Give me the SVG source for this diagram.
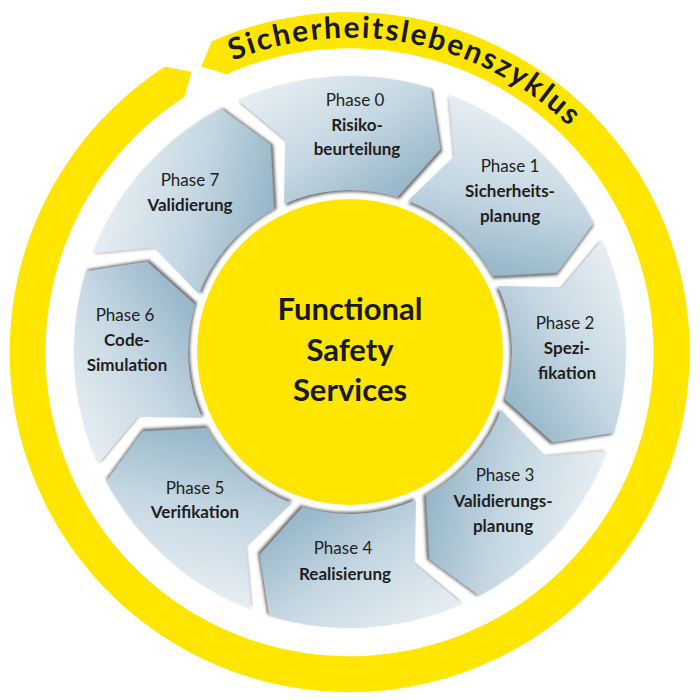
<svg xmlns="http://www.w3.org/2000/svg" xmlns:xlink="http://www.w3.org/1999/xlink" width="700" height="700" viewBox="0 0 700 700">
<style>
.ph{font-family:Lato,"Open Sans",sans-serif;font-size:17px;fill:#1e1e1e;text-anchor:middle}
.b{font-weight:bold}
.ct{font-family:Lato,"Open Sans",sans-serif;font-size:31px;font-weight:bold;fill:#1a1a1a;text-anchor:middle}
.seg{fill:url(#g);filter:url(#sh)}
</style>
<defs>
<linearGradient id="g" x1="0" y1="0" x2="1" y2="1">
<stop offset="0" stop-color="#eef3f7"/><stop offset="0.5" stop-color="#c5d7e2"/><stop offset="1" stop-color="#84a9bf"/>
</linearGradient>
<filter id="sh" x="-10%" y="-10%" width="130%" height="130%">
<feDropShadow dx="2" dy="2" stdDeviation="1.5" flood-color="#333" flood-opacity="0.7"/>
</filter>
<path id="s" d="M237.7,99.9 A276,276 0 0 1 430.7,88.1 L440.3,149.2 L397.4,197.1 A162,162 0 0 0 284.1,204 L285.1,139.7 Z"/>
<path id="arc" d="M227.3,63 A313,313 0 0 1 645.1,244.6"/>
</defs>
<rect width="700" height="700" fill="#fff"/>
<g id="ring">
<path d="M211.7,41.4 A340,340 0 1 1 164.8,66.8 L191.4,71.7 L184.4,97 A304,304 0 1 0 226.4,74.3 L201.3,66.4 Z" fill="#ffe600"/>
<text font-family="Lato,'Open Sans',sans-serif" font-size="30" font-weight="bold" fill="#1a1a1a"><textPath xlink:href="#arc" startOffset="6" textLength="362">Sicherheitslebenszyklus</textPath></text>
</g>
<g id="center"><circle cx="350" cy="352" r="153" fill="#ffe600"/>
<text class="ct" x="350" y="320">Functional</text><text class="ct" x="350" y="361">Safety</text><text class="ct" x="350" y="401">Services</text></g>
<g id="p0"><use href="#s" class="seg"/><text class="ph" x="355" y="106">Phase 0</text><text class="ph b" x="357" y="131">Risiko-</text><text class="ph b" x="357" y="155">beurteilung</text></g>
<g id="p1"><use href="#s" class="seg" transform="rotate(45 350 352)"/><text class="ph" x="510" y="172">Phase 1</text><text class="ph b" x="510" y="197">Sicherheits-</text><text class="ph b" x="510" y="222">planung</text></g>
<g id="p2"><use href="#s" class="seg" transform="rotate(90 350 352)"/><text class="ph" x="565" y="329">Phase 2</text><text class="ph b" x="567" y="354">Spezi-</text><text class="ph b" x="567" y="379">fikation</text></g>
<g id="p3"><use href="#s" class="seg" transform="rotate(135 350 352)"/><text class="ph" x="505" y="481">Phase 3</text><text class="ph b" x="503" y="507">Validierungs-</text><text class="ph b" x="503" y="532">planung</text></g>
<g id="p4"><use href="#s" class="seg" transform="rotate(180 350 352)"/><text class="ph" x="343" y="554">Phase 4</text><text class="ph b" x="345" y="580">Realisierung</text></g>
<g id="p5"><use href="#s" class="seg" transform="rotate(225 350 352)"/><text class="ph" x="195" y="494">Phase 5</text><text class="ph b" x="195" y="518">Verifikation</text></g>
<g id="p6"><use href="#s" class="seg" transform="rotate(270 350 352)"/><text class="ph" x="125" y="321">Phase 6</text><text class="ph b" x="127" y="346">Code-</text><text class="ph b" x="127" y="371">Simulation</text></g>
<g id="p7"><use href="#s" class="seg" transform="rotate(315 350 352)"/><text class="ph" x="190" y="186">Phase 7</text><text class="ph b" x="190" y="211">Validierung</text></g>
<g id="connectors"/>
</svg>
